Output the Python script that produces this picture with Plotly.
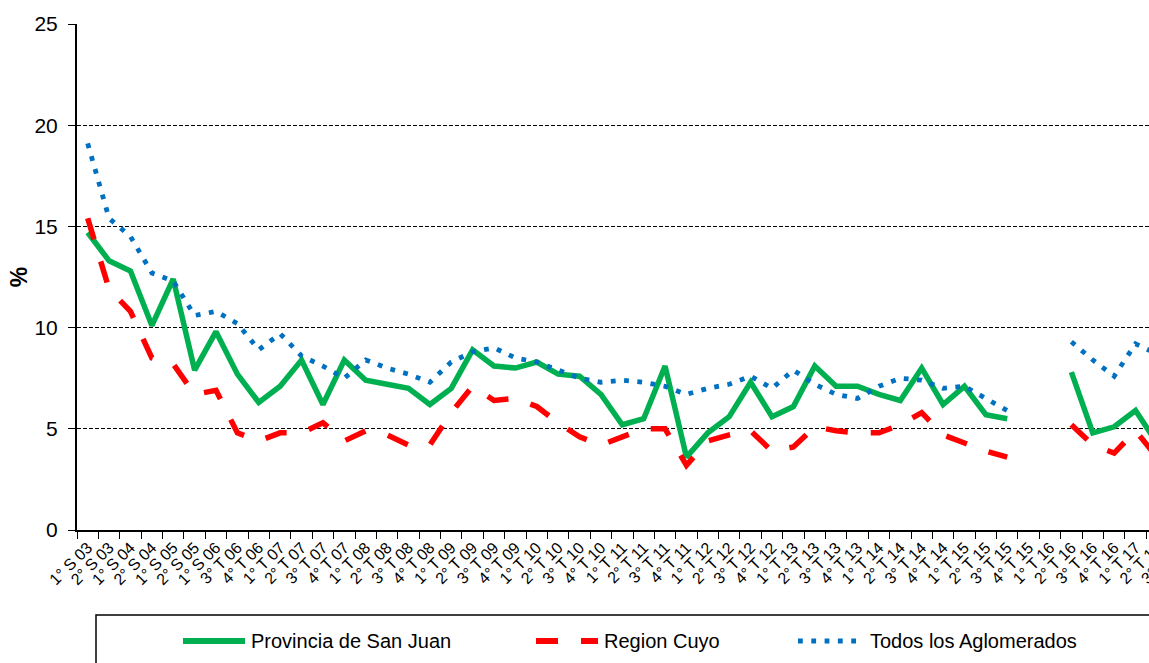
import plotly.graph_objects as go

categories = [
    "1° S 03", "2° S 03", "1° S 04", "2° S 04", "1° S 05", "2° S 05", "1° S 06",
    "3° T 06", "4° T 06",
    "1° T 07", "2° T 07", "3° T 07", "4° T 07",
    "1° T 08", "2° T 08", "3° T 08", "4° T 08",
    "1° T 09", "2° T 09", "3° T 09", "4° T 09",
    "1° T 10", "2° T 10", "3° T 10", "4° T 10",
    "1° T 11", "2° T 11", "3° T 11", "4° T 11",
    "1° T 12", "2° T 12", "3° T 12", "4° T 12",
    "1° T 13", "2° T 13", "3° T 13", "4° T 13",
    "1° T 14", "2° T 14", "3° T 14", "4° T 14",
    "1° T 15", "2° T 15", "3° T 15", "4° T 15",
    "1° T 16", "2° T 16", "3° T 16", "4° T 16",
    "1° T 17", "2° T 17", "3° T 17",
]

san_juan = [14.7, 13.3, 12.8, 10.1, 12.4, 7.9, 9.8, 7.7, 6.3, 7.1, 8.4, 6.2, 8.4,
            7.4, 7.2, 7.0, 6.2, 7.0, 8.9, 8.1, 8.0, 8.3, 7.7, 7.6, 6.7, 5.2, 5.5,
            8.1, 3.6, 4.8, 5.6, 7.3, 5.6, 6.1, 8.1, 7.1, 7.1, 6.7, 6.4, 8.0, 6.2,
            7.1, 5.7, 5.5, None, None, 7.8, 4.8, 5.1, 5.9, 4.3, None]

region_cuyo = [15.4, 11.9, 10.8, 8.5, 8.2, 6.7, 6.9, 4.8, 4.4, 4.8, 4.8, 5.3, 4.4,
               4.9, 4.7, 4.2, 4.2, 5.8, 7.1, 6.4, 6.5, 6.1, 5.3, 4.6, 4.2, 4.6, 5.0,
               5.0, 3.2, 4.4, 4.7, 4.9, 3.9, 4.1, 5.1, 4.9, 4.8, 4.8, 5.2, 5.8, 4.7,
               4.3, 3.9, 3.6, None, None, 5.2, 4.2, 3.8, 4.9, 3.6, None]

aglomerados = [19.1, 15.4, 14.5, 12.7, 12.3, 10.6, 10.8, 10.2, 8.9, 9.7, 8.6, 8.1, 7.5,
               8.4, 8.0, 7.7, 7.3, 8.3, 8.8, 9.0, 8.5, 8.3, 7.9, 7.5, 7.3, 7.4, 7.3,
               7.1, 6.7, 7.0, 7.2, 7.6, 7.0, 7.9, 7.2, 6.7, 6.5, 7.1, 7.5, 7.4, 7.0,
               7.1, 6.5, 5.9, None, None, 9.3, 8.4, 7.6, 9.2, 8.7, None]

series_names = ["Provincia de San Juan", "Region Cuyo", "Todos los Aglomerados"]
y_ticks = [0, 5, 10, 15, 20, 25]

GREEN = "#00B050"
RED = "#FF0000"
BLUE = "#0070C0"
FONT = "Liberation Sans, Arial, sans-serif"

W, H = 1200, 690
L, R, T, B = 77, 11, 24, 160
PW = W - L - R
PH = H - T - B


def px_x(px):
    return (px - L) / PW


def px_y(py):
    return (H - B - py) / PH


fig = go.Figure()
fig.add_trace(go.Scatter(x=categories, y=san_juan, mode="lines", name=series_names[0],
                         line=dict(color=GREEN, width=5.5), showlegend=False))
fig.add_trace(go.Scatter(x=categories, y=region_cuyo, mode="lines", name=series_names[1],
                         line=dict(color=RED, width=5.5, dash="22px,23px"), showlegend=False))
fig.add_trace(go.Scatter(x=categories, y=aglomerados, mode="lines", name=series_names[2],
                         line=dict(color=BLUE, width=4.8, dash="4.8px,8.5px"), showlegend=False))

# manual legend (cropped box like the reference)
shapes = [
    dict(type="rect", xref="paper", yref="paper",
         x0=px_x(96), x1=px_x(1190), y0=px_y(615), y1=px_y(685),
         line=dict(color="black", width=1.5), fillcolor="rgba(0,0,0,0)", layer="above"),
    dict(type="line", xref="paper", yref="paper", x0=px_x(183), x1=px_x(245),
         y0=px_y(641), y1=px_y(641), line=dict(color=GREEN, width=6)),
    dict(type="line", xref="paper", yref="paper", x0=px_x(536), x1=px_x(598),
         y0=px_y(641), y1=px_y(641), line=dict(color=RED, width=6, dash="22px,23px")),
    dict(type="line", xref="paper", yref="paper", x0=px_x(798), x1=px_x(862),
         y0=px_y(641), y1=px_y(641), line=dict(color=BLUE, width=4.8, dash="4.8px,8.5px")),
]
annotations = [
    dict(text=series_names[0], x=px_x(249), y=px_y(641)),
    dict(text=series_names[1], x=px_x(602), y=px_y(641)),
    dict(text=series_names[2], x=px_x(868), y=px_y(641)),
]
for a in annotations:
    a.update(xref="paper", yref="paper", xanchor="left", yanchor="middle", showarrow=False,
             font=dict(family=FONT, size=20, color="black"))

fig.update_layout(
    width=W, height=H,
    margin=dict(l=L, r=R, t=T, b=B, pad=0),
    paper_bgcolor="white", plot_bgcolor="white",
    font=dict(family=FONT, color="black"),
    shapes=shapes, annotations=annotations,
    showlegend=False,
)
fig.update_xaxes(
    type="category", range=[-0.5, len(categories) - 0.5],
    tickmode="linear", tick0=0, dtick=1, tickson="boundaries",
    ticks="outside", ticklen=7, tickwidth=1, tickcolor="black",
    tickangle=-45, tickfont=dict(family=FONT, size=16, color="black"),
    showline=True, linecolor="black", linewidth=2, showgrid=False, zeroline=False,
)
fig.update_yaxes(
    range=[0, 25], tickmode="array", tickvals=y_ticks,
    ticks="outside", ticklen=7, tickwidth=1, tickcolor="black",
    tickfont=dict(family=FONT, size=21, color="black"), ticklabelstandoff=6,
    showline=True, linecolor="black", linewidth=2,
    showgrid=True, gridcolor="black", gridwidth=1, griddash="4px,2px",
    zeroline=False,
    title=dict(text="<b>%</b>", font=dict(family=FONT, size=23, color="black"), standoff=0),
)

post = ("document.body.style.margin='0';document.body.style.overflow='hidden';"
        "document.documentElement.style.overflow='hidden';")
fig.write_html("out.html", post_script=post, config={"displayModeBar": False})
